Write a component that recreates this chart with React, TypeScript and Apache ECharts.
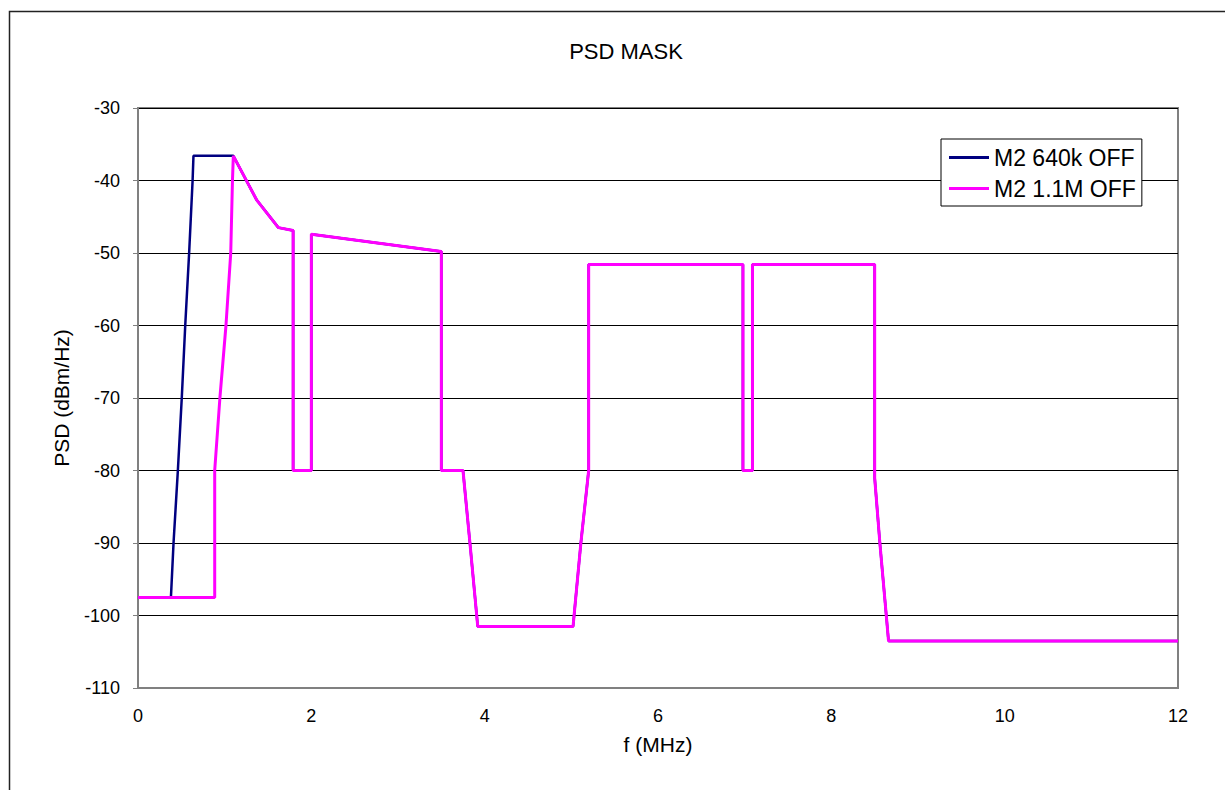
import React, { useEffect, useRef } from "react";
import * as echarts from "echarts";

// Frequency (MHz) / PSD (dBm/Hz) points
const head640Freq = [0, 0.38, 0.41, 0.46, 0.505, 0.545, 0.59, 0.63, 0.64];
const head640Psd = [-97.5, -97.5, -90, -80, -70, -60, -50, -40, -36.6];

const head11Freq = [0, 0.885, 0.885, 0.945, 1.015, 1.07, 1.09];
const head11Psd = [-97.5, -97.5, -80, -70, -60, -50, -40];

const tailFreq = [1.1, 1.37, 1.62, 1.79, 1.79, 2.0, 2.0, 3.5, 3.5, 3.75, 3.83, 3.92, 5.02, 5.11, 5.2, 5.2, 6.98, 6.98, 7.09, 7.09, 8.5, 8.5, 8.56, 8.66, 12];
const tailPsd = [-36.6, -42.7, -46.5, -46.9, -80, -80, -47.4, -49.8, -80, -80, -90, -101.5, -101.5, -90, -80, -51.6, -51.6, -80, -80, -51.6, -51.6, -81, -90, -103.5, -103.5];

const seriesNames = ["M2 640k OFF", "M2 1.1M OFF"];
const seriesColors = ["#000080", "#FF00FF"];
const yTicks = [-110, -100, -90, -80, -70, -60, -50, -40, -30];
const xTicks = [0, 2, 4, 6, 8, 10, 12];

function pairs(f: number[], p: number[]) {
  return f.map((x, i) => [x, p[i]]);
}

export default function App() {
  const ref = useRef<HTMLDivElement>(null);
  useEffect(() => {
    if (!ref.current) return;
    const chart = echarts.init(ref.current, null, { renderer: "svg" });
    const d640 = pairs(head640Freq.concat(tailFreq), head640Psd.concat(tailPsd));
    const d11 = pairs(head11Freq.concat(tailFreq), head11Psd.concat(tailPsd));
    const font = "Arial, 'Liberation Sans', sans-serif";
    chart.setOption({
      animation: false,
      backgroundColor: "#ffffff",
      textStyle: { fontFamily: font },
      title: {
        text: "PSD MASK",
        left: 621,
        top: 35,
        textAlign: "center",
        textStyle: { fontFamily: font, fontSize: 22, fontWeight: "normal", color: "#000" },
      },
      graphic: [
        {
          type: "rect",
          shape: { x: 9.5, y: 11.5, width: 1400, height: 1000 },
          style: { fill: "none", stroke: "#222", lineWidth: 1.5 },
          silent: true,
        },
      ],
      legend: {
        orient: "vertical",
        left: 941,
        top: 139,
        padding: [7, 6, 6, 8],
        itemGap: 8,
        itemWidth: 40,
        itemHeight: 3,
        icon: "rect",
        backgroundColor: "#fff",
        borderColor: "#000",
        borderWidth: 1,
        textStyle: { fontFamily: font, fontSize: 23, color: "#000" },
        data: seriesNames,
      },
      grid: {
        left: 138,
        top: 108,
        width: 1040,
        height: 580,
        show: true,
        borderColor: "#808080",
        borderWidth: 2,
        backgroundColor: "#fff",
      },
      xAxis: {
        type: "value",
        min: xTicks[0],
        max: xTicks[xTicks.length - 1],
        interval: 2,
        name: "f (MHz)",
        nameLocation: "middle",
        nameGap: 46,
        nameTextStyle: { fontFamily: font, fontSize: 21, color: "#000" },
        axisLine: { show: true, lineStyle: { color: "#808080", width: 2 } },
        axisTick: { show: false },
        axisLabel: { fontFamily: font, fontSize: 18, color: "#000", margin: 19 },
        splitLine: { show: false },
      },
      yAxis: {
        type: "value",
        min: yTicks[0],
        max: yTicks[yTicks.length - 1],
        interval: 10,
        name: "PSD (dBm/Hz)",
        nameLocation: "middle",
        nameGap: 66,
        nameRotate: 90,
        nameTextStyle: { fontFamily: font, fontSize: 21, color: "#000" },
        axisLine: { show: true, lineStyle: { color: "#808080", width: 2 } },
        axisTick: { show: true, length: 5, inside: false, lineStyle: { color: "#808080", width: 1 } },
        axisLabel: { fontFamily: font, fontSize: 18, color: "#000", margin: 18 },
        splitLine: { show: true, lineStyle: { color: "#000", width: 1 } },
      },
      series: [
        {
          name: seriesNames[0],
          type: "line",
          data: d640,
          showSymbol: false,
          symbol: "none",
          color: seriesColors[0],
          lineStyle: { color: seriesColors[0], width: 2.5 },
          z: 2,
        },
        {
          name: seriesNames[1],
          type: "line",
          data: d11,
          showSymbol: false,
          symbol: "none",
          color: seriesColors[1],
          lineStyle: { color: seriesColors[1], width: 3 },
          z: 3,
        },
      ],
    });
    return () => chart.dispose();
  }, []);
  return (
    <div
      ref={ref}
      style={{ position: "fixed", left: 0, top: 0, width: 1225, height: 790, background: "#fff" }}
    />
  );
}
